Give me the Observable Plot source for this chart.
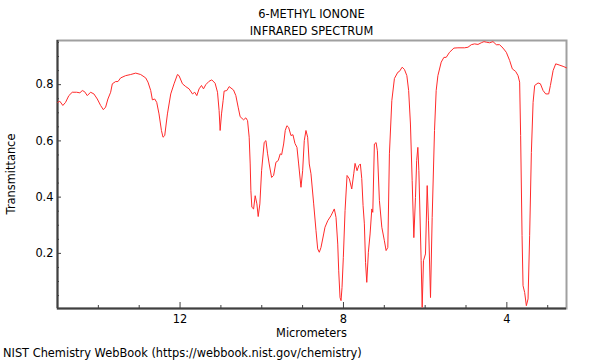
<!DOCTYPE html>
<html><head><meta charset="utf-8">
<script src="https://cdn.jsdelivr.net/npm/d3@7"></script>
<script src="https://cdn.jsdelivr.net/npm/@observablehq/plot@0.6"></script>
<style>html,body{margin:0;padding:0;background:#fff} svg{display:block}</style>
</head><body><div id="chart"></div>
<script>
const wavelength = [14.992,14.943,14.869,14.803,14.722,14.639,14.533,14.452,14.393,14.337,
14.271,14.190,14.109,14.026,13.945,13.878,13.822,13.766,13.699,13.658,
13.577,13.520,13.454,13.332,13.209,13.086,12.964,12.841,12.785,12.718,
12.677,12.620,12.571,12.515,12.456,12.417,12.375,12.309,12.228,12.147,
12.064,12.025,11.941,11.860,11.779,11.696,11.640,11.590,11.534,11.475,
11.426,11.370,11.289,11.223,11.142,11.083,11.044,11.019,10.985,10.946,
10.921,10.855,10.798,10.691,10.634,10.578,10.529,10.445,10.389,10.347,
10.308,10.283,10.266,10.242,10.200,10.161,10.119,10.087,10.046,10.004,
9.940,9.898,9.857,9.818,9.759,9.710,9.653,9.597,9.548,9.513,
9.464,9.425,9.384,9.342,9.285,9.236,9.187,9.138,9.097,9.040,
8.999,8.959,8.918,8.876,8.837,8.795,8.729,8.672,8.631,8.591,
8.550,8.484,8.452,8.385,8.305,8.224,8.182,8.140,8.116,8.084,
8.059,8.035,8.003,7.961,7.912,7.856,7.797,7.748,7.716,7.667,
7.625,7.586,7.552,7.520,7.488,7.459,7.429,7.390,7.348,7.306,
7.282,7.243,7.201,7.169,7.120,7.061,6.998,6.956,6.914,6.875,
6.816,6.752,6.669,6.630,6.563,6.507,6.448,6.404,6.360,6.318,
6.277,6.237,6.208,6.179,6.154,6.098,6.073,6.041,5.992,5.950,
5.919,5.869,5.828,5.771,5.730,5.688,5.607,5.541,5.485,5.404,
5.296,5.198,5.036,4.952,4.871,4.791,4.707,4.626,4.560,4.504,
4.423,4.339,4.258,4.178,4.094,4.013,3.932,3.866,3.785,3.726,
3.687,3.663,3.628,3.604,3.564,3.523,3.481,3.442,3.400,3.358,
3.319,3.236,3.179,3.113,3.049,2.976,2.934,2.868,2.804,2.721,
2.623,2.542];
const transmittance = [0.737,0.741,0.726,0.737,0.761,0.773,0.773,0.771,0.779,0.775,
0.761,0.773,0.767,0.749,0.726,0.711,0.720,0.749,0.773,0.803,
0.811,0.811,0.824,0.832,0.836,0.841,0.836,0.824,0.809,0.779,
0.746,0.749,0.737,0.696,0.637,0.613,0.619,0.696,0.767,0.803,
0.836,0.832,0.803,0.793,0.785,0.767,0.773,0.761,0.785,0.797,
0.785,0.800,0.812,0.817,0.805,0.773,0.708,0.637,0.696,0.743,
0.777,0.779,0.793,0.781,0.761,0.720,0.686,0.675,0.682,0.672,
0.613,0.518,0.423,0.364,0.358,0.405,0.376,0.331,0.376,0.494,
0.595,0.601,0.554,0.518,0.470,0.477,0.524,0.530,0.554,0.551,
0.589,0.637,0.654,0.648,0.619,0.622,0.591,0.577,0.518,0.435,
0.494,0.601,0.637,0.613,0.518,0.483,0.376,0.281,0.216,0.204,
0.221,0.269,0.293,0.316,0.334,0.358,0.328,0.233,0.138,0.043,
0.032,0.079,0.186,0.352,0.477,0.465,0.429,0.483,0.520,0.494,
0.512,0.518,0.466,0.370,0.305,0.167,0.097,0.204,0.269,0.358,
0.346,0.589,0.594,0.565,0.388,0.293,0.245,0.210,0.221,0.554,
0.743,0.822,0.844,0.847,0.862,0.854,0.832,0.779,0.660,0.459,
0.256,0.399,0.530,0.577,0.494,0.174,0.008,0.174,0.198,0.441,
0.316,0.043,0.328,0.637,0.779,0.832,0.880,0.897,0.897,0.915,
0.930,0.931,0.931,0.933,0.942,0.945,0.943,0.949,0.953,0.951,
0.949,0.953,0.942,0.942,0.930,0.915,0.886,0.856,0.847,0.832,
0.809,0.619,0.263,0.085,0.061,0.014,0.038,0.263,0.559,0.737,
0.797,0.806,0.803,0.779,0.767,0.767,0.797,0.850,0.874,0.870,
0.865,0.860];
const xMajorTicks = [12, 8, 4];
const xMinorTicks = [14, 13, 11, 10, 9, 7, 6, 5, 3];
const yMajorTicks = [0.2, 0.4, 0.6, 0.8];
const yMinorTicks = [0.05, 0.1, 0.15, 0.25, 0.3, 0.35, 0.45, 0.5, 0.55, 0.65, 0.7, 0.75, 0.85, 0.9, 0.95];
const xDomain = [15, 2.54];
const yDomain = [0.004, 0.957];
const titleLines = ["6-METHYL IONONE", "INFRARED SPECTRUM"];
const xLabel = "Micrometers";
const yLabel = "Transmittance";
const caption = "NIST Chemistry WebBook (https://webbook.nist.gov/chemistry)";

const data = wavelength.map((w, i) => ({w, t: transmittance[i]}));
const W = 600, H = 360, mt = 40, mb = 52, ml = 57, mr = 34;
const font = "DejaVu Sans";
const fs = 11.4;
const axisColor = "#404040";

const svg = Plot.plot({
  width: W, height: H,
  marginTop: mt, marginBottom: mb, marginLeft: ml, marginRight: mr,
  style: {fontFamily: font, fontSize: fs + "px", color: "#000", background: "#fff"},
  x: {domain: xDomain},
  y: {domain: yDomain},
  marks: [
    Plot.frame({stroke: "#a0a0a0", strokeWidth: 2}),
    Plot.ruleX([xDomain[0]], {stroke: axisColor, strokeWidth: 2}),
    Plot.ruleY([yDomain[0]], {stroke: axisColor, strokeWidth: 2}),
    Plot.line(data, {x: "w", y: "t", stroke: "#ff2a2a", strokeWidth: 1}),
    Plot.axisX(xMajorTicks, {tickSize: -6, tickPadding: 12, label: null, stroke: axisColor, fill: "#000", fontSize: fs, tickFormat: d3.format("d")}),
    Plot.axisX(xMinorTicks, {tickSize: -3, label: null, stroke: axisColor, fill: "none"}),
    Plot.axisY(yMajorTicks, {tickSize: -4, tickPadding: 8, label: null, stroke: axisColor, fill: "#000", fontSize: fs, tickFormat: d3.format(".1f")}),
    Plot.axisY(yMinorTicks, {tickSize: -2, label: null, stroke: axisColor, fill: "none"})
  ]
});

const s = d3.select(svg);
const cx = ml + (W - ml - mr) / 2;
const addText = (txt, x, y, opts = {}) => {
  const t = s.append("text").attr("x", x).attr("y", y)
    .attr("font-family", font).attr("font-size", fs)
    .attr("fill", "#000").attr("text-anchor", opts.anchor || "middle").text(txt);
  if (opts.rotate) t.attr("transform", `rotate(-90 ${x} ${y})`);
  return t;
};
addText(titleLines[0], cx, 18);
addText(titleLines[1], cx, 35);
addText(xLabel, cx, 337);
addText(yLabel, 15, (mt + (H - mb)) / 2, {rotate: true});
addText(caption, 3, 357, {anchor: "start"});

document.getElementById("chart").appendChild(svg);
</script>
</body></html>
